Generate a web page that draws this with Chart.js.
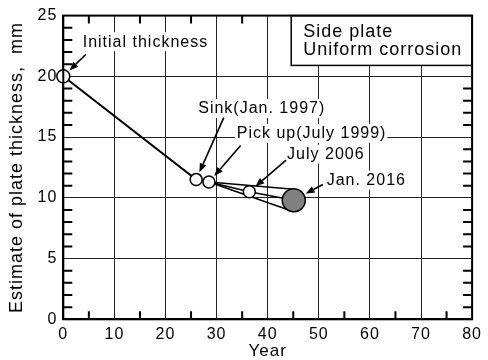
<!DOCTYPE html>
<html lang="en">
<head>
<meta charset="UTF-8">
<title>Side plate - uniform corrosion</title>
<script src="https://cdn.jsdelivr.net/npm/chart.js"></script>
<style>
  body { margin: 0; background: #fff; }
  #chart { display: block; }
</style>
</head>
<body>
<canvas id="chart" width="488" height="360"></canvas>
<script>
// measured thickness, years after build
const years = [0, 26, 28.5, 36.4, 45.1];
const thickness = [20, 11.5, 11.3, 10.5, 9.8];
const pointNames = ['Initial thickness', 'Sink(Jan. 1997)', 'Pick up(July 1999)', 'July 2006', 'Jan. 2016'];
// spread of the estimate after the pick up
const fanYears = [28.5, 45.1];
const fanUpper = [11.3, 10.7];
const fanLower = [11.3, 8.85];
const boxLines = ['Side plate', 'Uniform corrosion'];

// where the callouts sit (data units)
const labelAt = [[3.8, 22.9], [26.4, 17.4], [33.95, 15.35], [43.8, 13.63], [51.54, 11.5]];
const arrowFrom = [[4.4, 21.8], [31.4, 16.6], [34.7, 14.3], [43.6, 13.1], [50.8, 11.1]];
const radii = [6.5, 6, 6, 6, 11.5];
const fills = ['#fff', '#fff', '#fff', '#fff', '#808080'];

const FONT = "'Liberation Sans', Arial, sans-serif";
Chart.defaults.font.family = FONT;
Chart.defaults.color = '#000';

const pts = (xs, ys) => xs.map((x, i) => ({ x: x, y: ys[i] }));

// inward minor ticks on all four sides
function drawMinorTicks(ctx, a, x, y) {
  ctx.save();
  ctx.strokeStyle = '#000';
  ctx.lineWidth = 2;
  for (let v = 5; v < 80; v += 10) {
    const px = x.getPixelForValue(v);
    ctx.beginPath();
    ctx.moveTo(px, a.bottom); ctx.lineTo(px, a.bottom - 8);
    ctx.moveTo(px, a.top); ctx.lineTo(px, a.top + 8);
    ctx.stroke();
  }
  for (let v = 1; v < 25; v++) {
    if (v % 5 === 0) continue;
    const py = y.getPixelForValue(v);
    ctx.beginPath();
    ctx.moveTo(a.left, py); ctx.lineTo(a.left + 9, py);
    ctx.moveTo(a.right, py); ctx.lineTo(a.right - 9, py);
    ctx.stroke();
  }
  ctx.restore();
}

const frame = {
  id: 'frame',
  beforeDraw(chart) {
    chart.ctx.letterSpacing = '1px';
  },
  afterDraw(chart) {
    const { ctx, chartArea: a, scales: { x, y } } = chart;
    drawMinorTicks(ctx, a, x, y);

    ctx.save();
    // note box, top right
    const bx = x.getPixelForValue(44.6), by = y.getPixelForValue(20.9);
    ctx.fillStyle = '#fff';
    ctx.fillRect(bx, a.top, a.right - bx, by - a.top);
    ctx.strokeStyle = '#000';
    ctx.lineWidth = 1.5;
    ctx.strokeRect(bx, a.top, a.right - bx, by - a.top);
    ctx.lineWidth = 2;
    ctx.strokeRect(a.left, a.top, a.width, a.height);
    ctx.letterSpacing = '1px';
    ctx.fillStyle = '#000';
    ctx.font = '18px ' + FONT;
    ctx.textBaseline = 'middle';
    ctx.textAlign = 'left';
    boxLines.forEach((t, i) => ctx.fillText(t, bx + 12, a.top + 16.5 + i * 17.5));

    // callouts with arrows
    ctx.font = '16px ' + FONT;
    pointNames.forEach((name, i) => {
      const lx = x.getPixelForValue(labelAt[i][0]);
      const ly = y.getPixelForValue(labelAt[i][1]);
      const w = ctx.measureText(name).width;
      ctx.fillStyle = '#fff';
      ctx.fillRect(lx - 2, ly - 9, w + 3, 19);
      ctx.fillStyle = '#000';
      ctx.fillText(name, lx, ly + 1);

      const tx = x.getPixelForValue(arrowFrom[i][0]);
      const ty = y.getPixelForValue(arrowFrom[i][1]);
      const cx = x.getPixelForValue(years[i]);
      const cy = y.getPixelForValue(thickness[i]);
      const len = Math.hypot(cx - tx, cy - ty);
      const ux = (cx - tx) / len, uy = (cy - ty) / len;
      const tipX = cx - ux * (radii[i] + 2), tipY = cy - uy * (radii[i] + 2);
      const hx = tipX - ux * 9, hy = tipY - uy * 9;
      ctx.lineWidth = 1.6;
      ctx.beginPath();
      ctx.moveTo(tx, ty);
      ctx.lineTo(hx, hy);
      ctx.stroke();
      ctx.beginPath();
      ctx.moveTo(tipX, tipY);
      ctx.lineTo(hx - uy * 3.5, hy + ux * 3.5);
      ctx.lineTo(hx + uy * 3.5, hy - ux * 3.5);
      ctx.closePath();
      ctx.fill();
    });
    ctx.restore();
  }
};

new Chart(document.getElementById('chart'), {
  type: 'scatter',
  data: {
    datasets: [
      {
        label: 'Measured',
        data: pts(years, thickness),
        showLine: false,
        pointRadius: radii,
        pointBackgroundColor: fills,
        pointBorderColor: '#000',
        pointBorderWidth: 1.5,
        clip: false
      },
      {
        label: 'Trend',
        data: pts(years.slice(0, 3), thickness.slice(0, 3)),
        showLine: true,
        borderColor: '#000',
        borderWidth: 2,
        pointRadius: 0
      },
      {
        label: 'Middle',
        data: pts(years.slice(2), thickness.slice(2)),
        showLine: true,
        borderColor: '#000',
        borderWidth: 1.5,
        pointRadius: 0
      },
      {
        label: 'Upper',
        data: pts(fanYears, fanUpper),
        showLine: true,
        borderColor: '#000',
        borderWidth: 1.5,
        pointRadius: 0
      },
      {
        label: 'Lower',
        data: pts(fanYears, fanLower),
        showLine: true,
        borderColor: '#000',
        borderWidth: 1.5,
        pointRadius: 0
      }
    ]
  },
  options: {
    responsive: false,
    animation: false,
    events: [],
    layout: { padding: { left: 0, right: 10.7, top: 14.3, bottom: 0 } },
    plugins: { legend: { display: false }, tooltip: { enabled: false } },
    scales: {
      x: {
        min: 0, max: 80,
        ticks: { stepSize: 10, padding: 7, font: { size: 16, lineHeight: 1 } },
        grid: { color: '#222', lineWidth: 1, drawTicks: false },
        border: { display: true, color: '#000', width: 2 },
        title: { display: true, text: 'Year', font: { size: 17, lineHeight: 1 }, padding: { top: 0, bottom: 0 } },
        afterFit(s) { s.height = 40.7; }
      },
      y: {
        min: 0, max: 25,
        ticks: { stepSize: 5, padding: 6, font: { size: 16 } },
        grid: { color: '#222', lineWidth: 1, drawTicks: false },
        border: { display: true, color: '#000', width: 2 },
        title: { display: true, text: 'Estimate of plate thickness,  mm', font: { size: 18, lineHeight: 1 }, padding: { top: 8.5, bottom: 0 } },
        afterFit(s) { s.width = 63.3; }
      }
    }
  },
  plugins: [frame]
});
</script>
</body>
</html>
